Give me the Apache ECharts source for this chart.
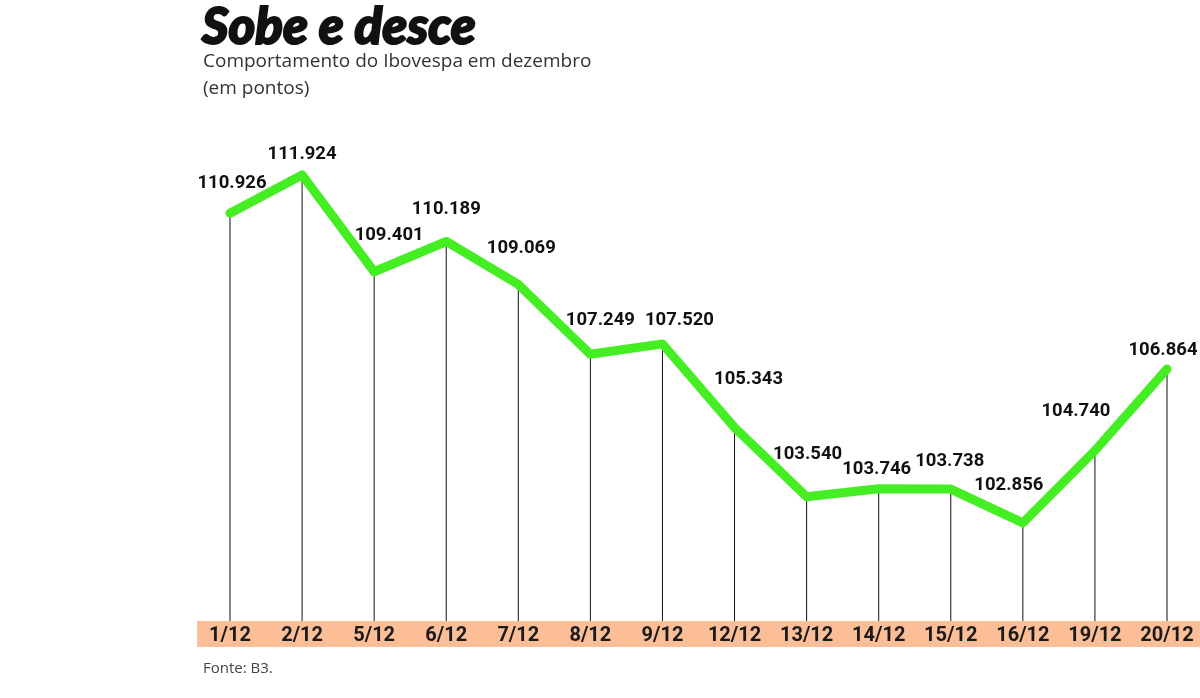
<!DOCTYPE html>
<html>
<head>
<meta charset="utf-8">
<script src="https://cdn.jsdelivr.net/npm/echarts@6/dist/echarts.min.js"></script>
<style>
html,body{margin:0;padding:0;background:#fff;}
#chart{width:1200px;height:698px;}
</style>
</head>
<body>
<div id="chart"></div>
<script>
var categories = ['1/12','2/12','5/12','6/12','7/12','8/12','9/12','12/12','13/12','14/12','15/12','16/12','19/12','20/12'];
var values = [110926,111924,109401,110189,109069,107249,107520,105343,103540,103746,103738,102856,104740,106864];
var labelOffsets = [[2,-30],[0,-21],[15,-36],[0,-32],[3,-36],[10,-34],[17,-24],[14,-48],[1,-42],[-2,-19],[-1,-28],[-14,-38],[-19,-39],[-4,-19]];

function fmt(v){ return String(v).replace(/\B(?=(\d{3})+(?!\d))/g, '.'); }

var lineData = values.map(function(v,i){
  return {value:v, label:{offset:labelOffsets[i]}};
});

var chart = echarts.init(document.getElementById('chart'), null, {renderer:'canvas'});
chart.setOption({
  backgroundColor:'#ffffff',
  animation:false,
  title:[
    {text:'Sobe e desce', left:197, top:-3,
     textStyle:{fontFamily:'Lato', fontSize:51, fontWeight:900, fontStyle:'italic', color:'#111',
       textBorderColor:'#111', textBorderWidth:2}},
    {text:'Comportamento do Ibovespa em dezembro\n(em pontos)', left:198, top:43,
     textStyle:{fontFamily:'Open Sans', fontSize:19, fontWeight:'normal', color:'#333', lineHeight:27}},
    {text:'Fonte: B3.', left:198, top:656,
     textStyle:{fontFamily:'Open Sans', fontSize:15, fontWeight:'normal', color:'#444'}}
  ],
  graphic:[
    {type:'rect', z:-10, shape:{x:197, y:621, width:1003, height:26}, style:{fill:'#FBBE96'}}
  ],
  grid:{left:230, right:33, top:152.8, bottom:77, containLabel:false},
  xAxis:{
    type:'category', data:categories, boundaryGap:false,
    axisLine:{show:false}, axisTick:{show:false}, splitLine:{show:false},
    axisLabel:{margin:5, fontFamily:'Roboto', fontWeight:'bold', fontSize:20, color:'#1a1a1a'}
  },
  yAxis:{
    type:'value', min:100300, max:112500, show:false,
    splitLine:{show:false}
  },
  series:[
    {type:'bar', data:values, barWidth:1, silent:true, z:1,
     itemStyle:{color:'#111'}, clip:true},
    {type:'line', data:lineData, z:3, symbol:'circle', symbolSize:2, showSymbol:true, smooth:false,
     itemStyle:{color:'#44EE22'},
     lineStyle:{color:'#44EE22', width:9, cap:'round', join:'round'},
     label:{show:true, position:'inside', formatter:function(p){return fmt(p.value);},
       fontFamily:'Roboto', fontWeight:'bold', fontSize:18.5, color:'#111'}}
  ]
});
</script>
</body>
</html>
